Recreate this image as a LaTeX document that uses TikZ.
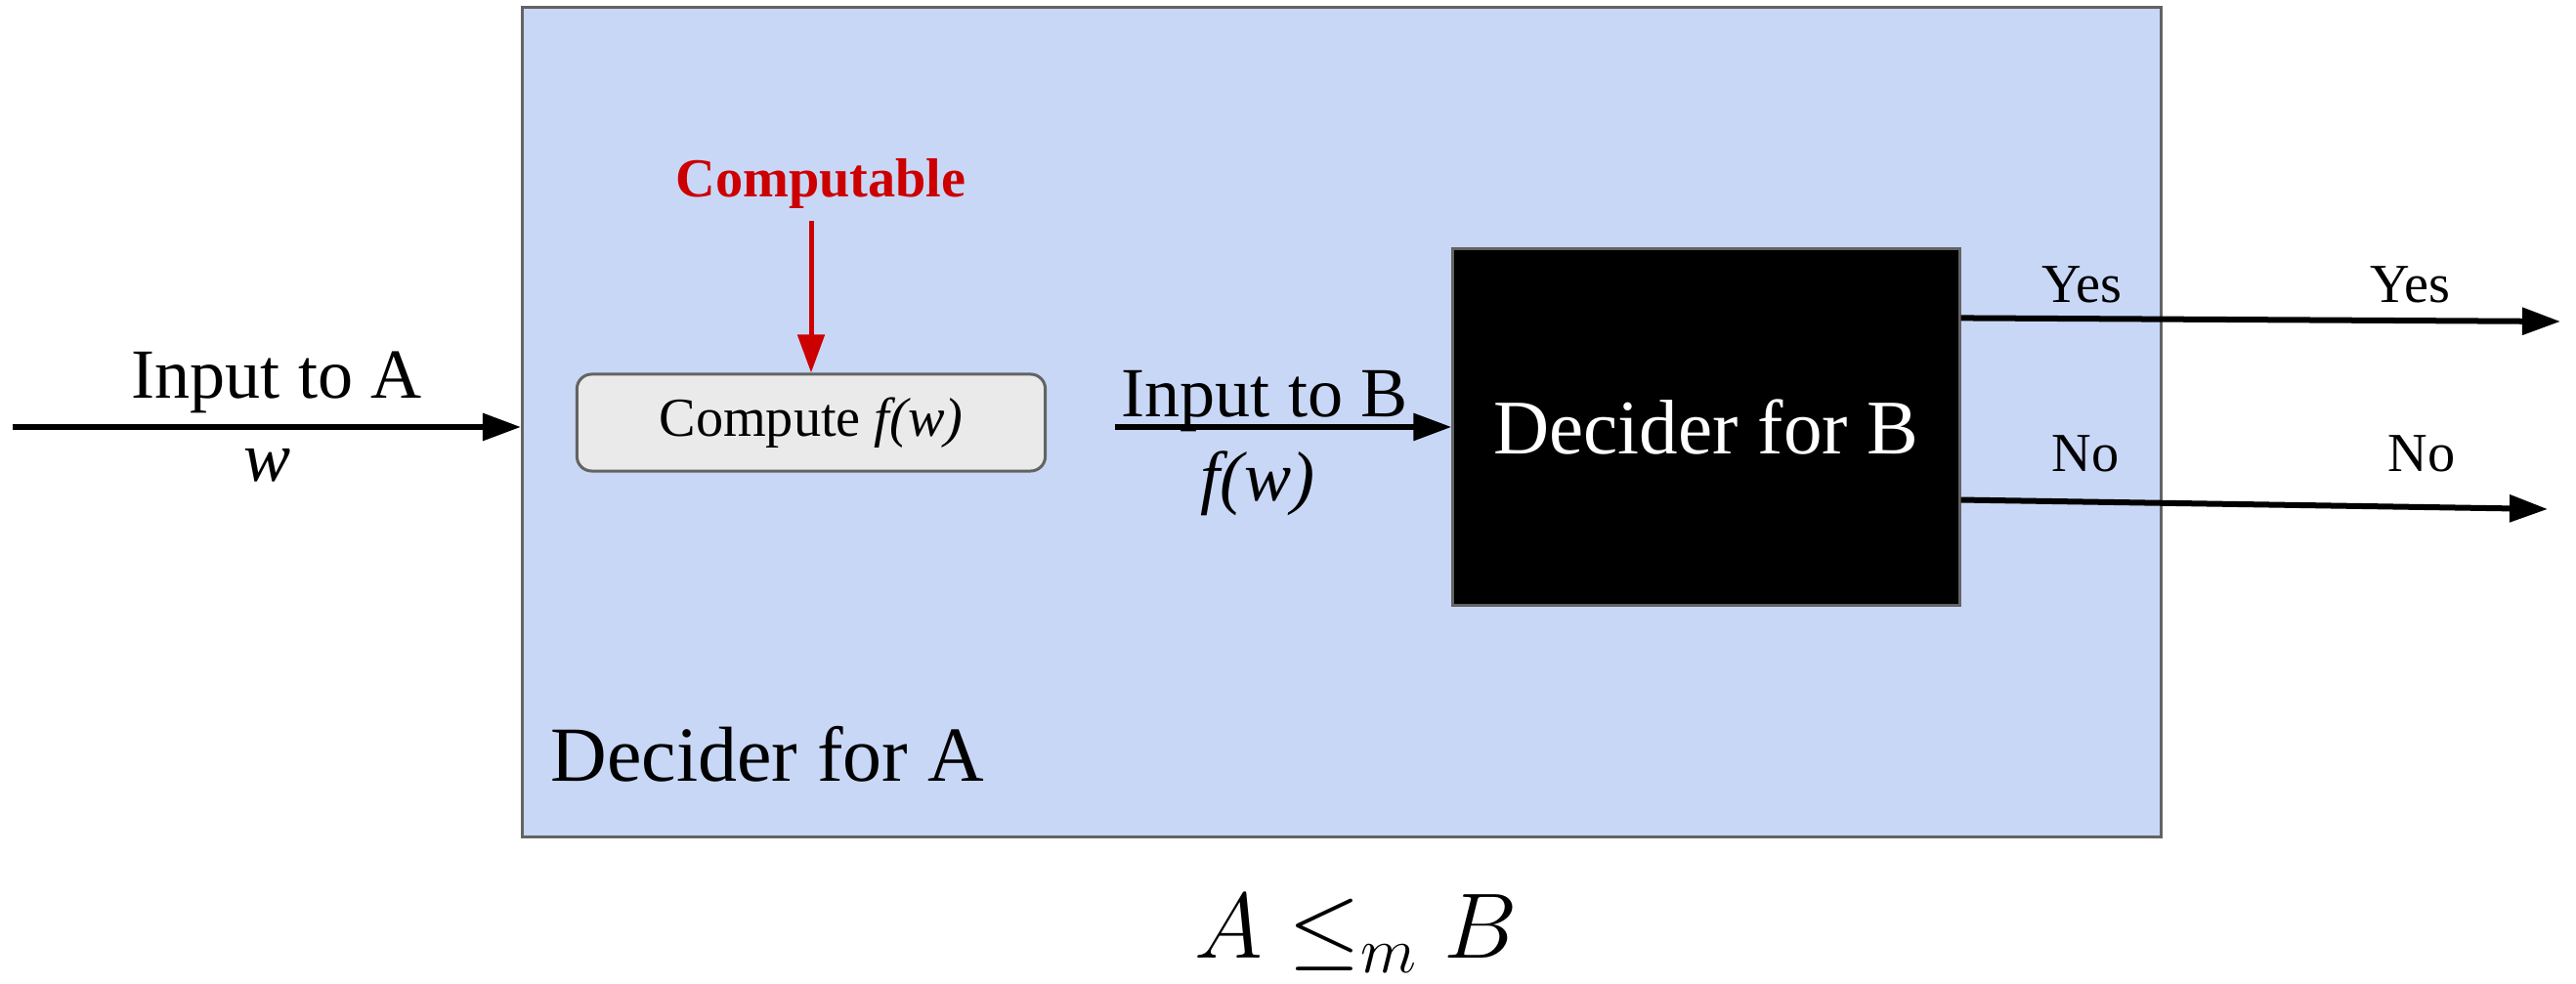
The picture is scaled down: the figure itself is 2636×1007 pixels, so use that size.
\RequirePackage{fix-cm}
\documentclass[tikz,border=0pt]{standalone}
\usepackage{fontspec}
\setmainfont{Liberation Serif}
\usetikzlibrary{arrows.meta}
\definecolor{bluefill}{HTML}{C9D7F6}
\definecolor{graybox}{HTML}{EAEAEA}
\definecolor{edgegray}{HTML}{636363}
\definecolor{redc}{HTML}{CC0000}
\tikzset{
  tip/.style={-{Triangle[length=0.39cm,width=0.27cm]}},
  blackarrow/.style={tip, line width=0.06cm, black},
  redarrow/.style={tip, line width=0.05cm, redc},
  bigtxt/.style={font=\fontsize{20.5}{24}\selectfont, inner sep=0pt},
  smalltxt/.style={font=\fontsize{16}{19}\selectfont, inner sep=0pt},
}
\begin{document}
\begin{tikzpicture}[x=0.01cm,y=-0.01cm]
\useasboundingbox (0,0) rectangle (2636,1007);
% outer box
\node (deciderA) [rectangle, fill=bluefill, draw=edgegray, line width=0.03cm,
  minimum width=16.76cm, minimum height=8.48cm, inner sep=0pt] at (1373,432) {};
\node (labelA) [anchor=base west, font=\fontsize{22.7}{26}\selectfont, inner sep=0pt] at (563,800) {Decider for A};
% compute box
\node (compute) [rectangle, rounded corners=0.15cm, fill=graybox, draw=edgegray, line width=0.03cm,
  minimum width=4.79cm, minimum height=0.99cm, inner sep=0pt, font=\fontsize{16}{19}\selectfont] at (830,432.5) {Compute \textit{f(w)}};
% computable
\node (computable) [anchor=base, font=\fontsize{16}{19}\selectfont\bfseries, text=redc] at (840,202) {Computable};
\draw[redarrow] (computable.south -| compute.north) -- (compute.north);
% decider for B
\node (deciderB) [rectangle, fill=black, draw=edgegray, line width=0.03cm,
  minimum width=5.18cm, minimum height=3.64cm, inner sep=0pt, text=white,
  font=\fontsize{22.5}{26}\selectfont] at (1746,437) {Decider for B};
% input to A
\coordinate (inA) at (13,437);
\draw[blackarrow] (inA) -- (inA -| deciderA.west);
\node (inAlabel) [bigtxt, anchor=base] at (283,408) {Input to A};
\node (wlabel) [bigtxt, anchor=base] at (274,493) {\textit{w}};
% input to B
\coordinate (inB) at (1141,437);
\draw[blackarrow] (inB) -- (deciderB.west);
\node (inBlabel) [bigtxt, anchor=base] at (1294,427) {Input to B};
\node (fwlabel) [bigtxt, anchor=base] at (1287,513) {\textit{f(w)}};
% yes / no
\coordinate (yesEnd) at (2620,329);
\coordinate (noEnd) at (2607,521);
\draw[blackarrow] ([yshift=-0.72cm]deciderB.north east) -- (yesEnd);
\draw[blackarrow] ([yshift=-2.58cm]deciderB.north east) -- (noEnd);
\node (yes1) [smalltxt, anchor=base] at (2130,310) {Yes};
\node (yes2) [smalltxt, anchor=base] at (2466,310) {Yes};
\node (no1) [smalltxt, anchor=base] at (2134,483) {No};
\node (no2) [smalltxt, anchor=base] at (2478,483) {No};
% relation
\node (rel) [anchor=base, inner sep=0pt, font=\fontsize{27}{30}\selectfont] at (1388,981) {$A \leq_m B$};
\end{tikzpicture}
\end{document}
